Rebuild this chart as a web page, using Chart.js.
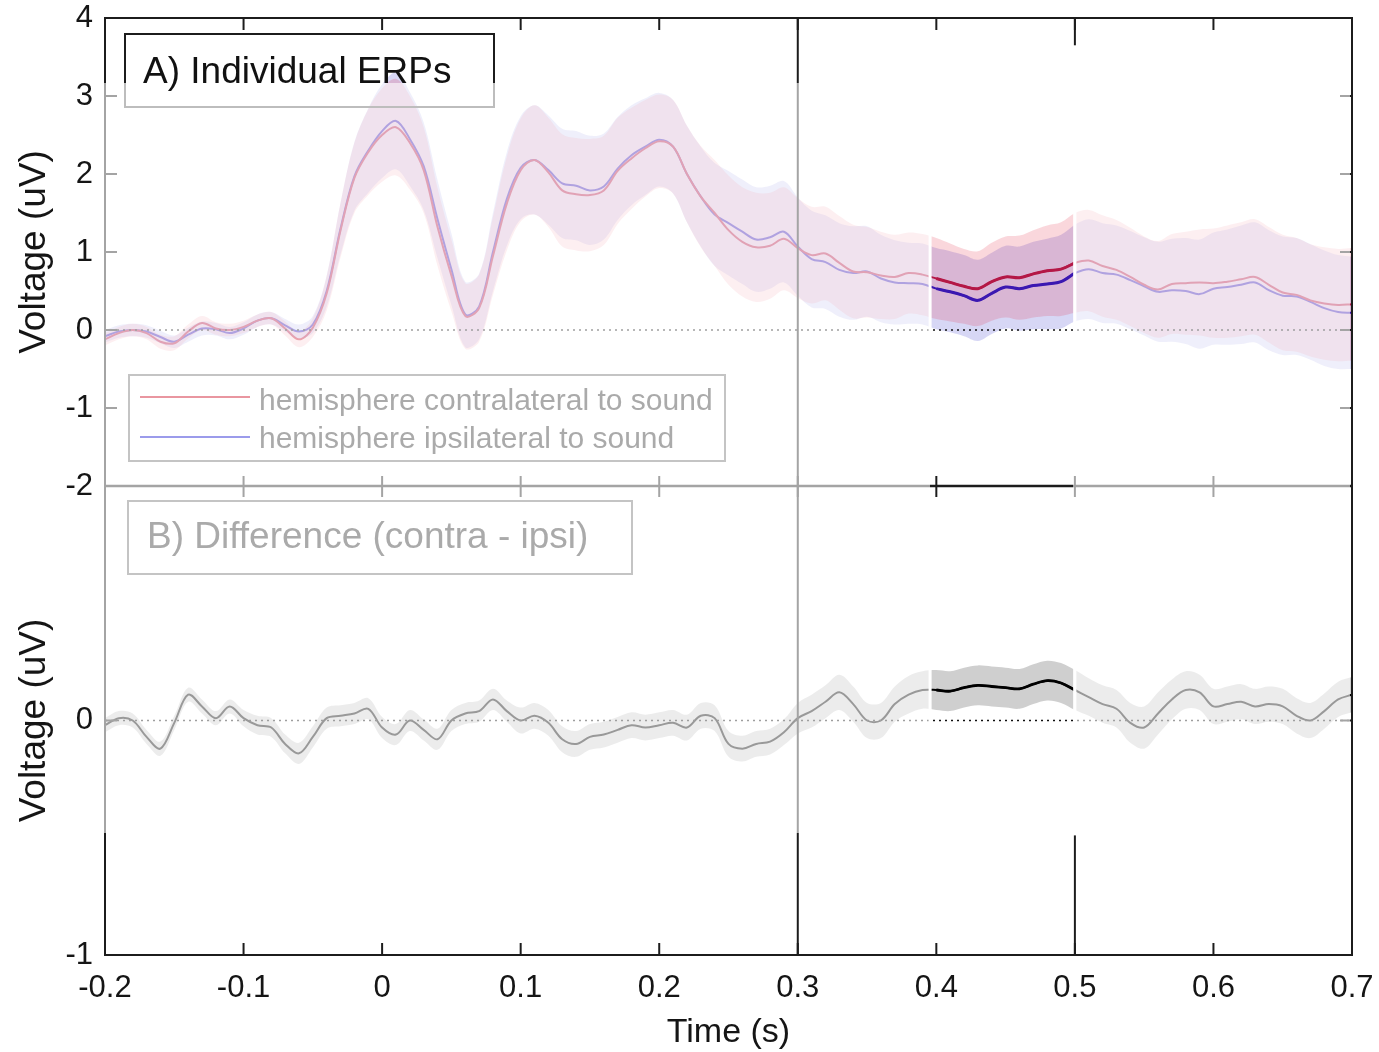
<!DOCTYPE html>
<html><head><meta charset="utf-8">
<script src="https://cdn.jsdelivr.net/npm/chart.js@4.4.1/dist/chart.umd.min.js"></script>
<style>
html,body{margin:0;padding:0;background:#fff;}
#wrap{position:relative;width:1379px;height:1052px;overflow:hidden;font-family:'Liberation Sans',Arial,sans-serif;}
canvas{position:absolute;left:0;}
#cA{top:0;width:1379px;height:520px;}
#cB{top:440px;width:1379px;height:612px;}
.wash{position:absolute;background:rgba(255,255,255,0.6);}
.box{position:absolute;box-sizing:border-box;}
.txt{position:absolute;white-space:nowrap;}
</style></head>
<body><div id="wrap">
<canvas id="cA" width="1379" height="520"></canvas>
<canvas id="cB" width="1379" height="612"></canvas>
<div class="wash" id="w1"></div><div class="wash" id="w2"></div>
<div class="box" style="left:124px;top:33px;width:371px;height:50px;border:2px solid #1c1c1c;border-bottom:none;"></div>
<div class="box" style="left:124px;top:83px;width:371px;height:25px;border:2px solid #bdbdbd;border-top:none;"></div>
<div class="txt" style="left:143px;top:53px;font-size:37px;line-height:36px;color:#111;">A) Individual ERPs</div>
<div class="box" style="left:128px;top:374px;width:598px;height:88px;border:2px solid #c4c4c4;"></div>
<div class="box" style="left:140px;top:396px;width:110px;height:2px;background:rgb(233,150,160);"></div>
<div class="box" style="left:140px;top:436px;width:110px;height:2px;background:rgb(155,155,235);"></div>
<div class="txt" style="left:259px;top:385px;font-size:30px;line-height:30px;color:#aaaaaa;">hemisphere contralateral to sound</div>
<div class="txt" style="left:259px;top:423px;font-size:30px;line-height:30px;color:#aaaaaa;">hemisphere ipsilateral to sound</div>
<div class="box" style="left:127px;top:500px;width:506px;height:75px;border:2px solid #c4c4c4;"></div>
<div class="txt" style="left:147px;top:518px;font-size:37px;line-height:36px;color:#aaaaaa;">B) Difference (contra - ipsi)</div>
</div>
<script>
// ---------------- data ----------------
const time = [
-0.20,-0.19,-0.18,-0.17,-0.16,-0.15,-0.14,-0.13,-0.12,-0.11,
-0.10,-0.09,-0.08,-0.07,-0.06,-0.05,-0.04,-0.03,-0.02,-0.01,
0.00,0.01,0.02,0.03,0.04,0.05,0.06,0.07,0.08,0.09,
0.10,0.11,0.12,0.13,0.14,0.15,0.16,0.17,0.18,0.19,
0.20,0.21,0.22,0.23,0.24,0.25,0.26,0.27,0.28,0.29,
0.30,0.31,0.32,0.33,0.34,0.35,0.36,0.37,0.38,0.39,
0.40,0.41,0.42,0.43,0.44,0.45,0.46,0.47,0.48,0.49,
0.50,0.51,0.52,0.53,0.54,0.55,0.56,0.57,0.58,0.59,
0.60,0.61,0.62,0.63,0.64,0.65,0.66,0.67,0.68,0.69,
0.70];
const contra = [
-0.12,-0.04,0.00,-0.04,-0.15,-0.17,-0.02,0.09,0.02,0.00,
0.04,0.12,0.15,0.02,-0.12,0.03,0.47,1.28,1.95,2.28,
2.50,2.60,2.40,2.05,1.32,0.70,0.18,0.28,0.95,1.62,
2.05,2.18,2.02,1.79,1.74,1.73,1.79,2.04,2.20,2.33,
2.42,2.35,2.00,1.71,1.50,1.28,1.13,1.06,1.08,1.17,
1.05,0.96,0.98,0.86,0.75,0.74,0.70,0.68,0.73,0.71,
0.66,0.61,0.56,0.53,0.62,0.68,0.67,0.72,0.76,0.78,
0.86,0.89,0.82,0.77,0.68,0.58,0.52,0.59,0.60,0.61,
0.60,0.62,0.65,0.68,0.58,0.48,0.45,0.38,0.34,0.32,
0.33];
const ipsi = [
-0.08,-0.02,0.00,-0.02,-0.09,-0.15,-0.06,0.02,0.01,-0.04,
0.02,0.12,0.15,0.06,-0.02,0.07,0.50,1.30,1.97,2.30,
2.55,2.68,2.45,2.10,1.42,0.78,0.20,0.30,1.00,1.68,
2.08,2.18,2.05,1.88,1.85,1.79,1.84,2.07,2.24,2.35,
2.44,2.35,2.00,1.71,1.48,1.37,1.26,1.16,1.19,1.26,
1.07,0.91,0.87,0.77,0.73,0.75,0.66,0.61,0.60,0.59,
0.53,0.49,0.44,0.38,0.47,0.55,0.53,0.57,0.59,0.62,
0.73,0.78,0.73,0.71,0.64,0.56,0.49,0.51,0.50,0.46,
0.53,0.55,0.58,0.61,0.51,0.44,0.43,0.36,0.28,0.23,
0.22];
const contraErr = [
0.08,0.08,0.08,0.08,0.09,0.09,0.09,0.09,0.08,0.08,
0.08,0.08,0.08,0.09,0.10,0.12,0.22,0.35,0.45,0.55,
0.60,0.62,0.60,0.55,0.50,0.46,0.42,0.43,0.50,0.60,
0.66,0.70,0.70,0.72,0.72,0.72,0.70,0.68,0.65,0.62,
0.60,0.60,0.62,0.65,0.68,0.70,0.70,0.70,0.68,0.66,
0.64,0.62,0.60,0.60,0.60,0.58,0.56,0.54,0.52,0.52,
0.52,0.50,0.48,0.48,0.50,0.52,0.54,0.56,0.58,0.60,
0.64,0.65,0.65,0.64,0.63,0.62,0.62,0.64,0.66,0.68,
0.70,0.72,0.73,0.74,0.74,0.74,0.73,0.72,0.72,0.72,
0.72];
const ipsiErr = [
0.08,0.08,0.08,0.08,0.08,0.08,0.09,0.09,0.08,0.08,
0.08,0.08,0.08,0.08,0.09,0.11,0.20,0.33,0.44,0.54,
0.60,0.62,0.60,0.56,0.50,0.46,0.42,0.42,0.50,0.60,
0.66,0.70,0.70,0.70,0.70,0.70,0.68,0.66,0.64,0.62,
0.60,0.60,0.62,0.64,0.66,0.67,0.67,0.67,0.66,0.65,
0.63,0.62,0.60,0.60,0.60,0.58,0.56,0.54,0.52,0.52,
0.52,0.52,0.52,0.52,0.52,0.53,0.54,0.56,0.58,0.60,
0.62,0.64,0.64,0.63,0.63,0.63,0.64,0.66,0.68,0.70,
0.72,0.74,0.76,0.77,0.77,0.76,0.75,0.74,0.74,0.73,
0.72];
const diff = [
-0.02,0.01,0.00,-0.07,-0.12,-0.01,0.11,0.06,0.01,0.06,
0.01,-0.02,-0.03,-0.10,-0.14,-0.07,0.01,0.02,0.03,0.05,
-0.03,-0.06,0.00,-0.04,-0.08,0.00,0.03,0.04,0.09,0.04,
0.00,0.02,-0.01,-0.08,-0.10,-0.07,-0.06,-0.04,-0.02,-0.03,
-0.02,-0.01,-0.03,0.02,0.01,-0.10,-0.12,-0.10,-0.09,-0.05,
0.01,0.04,0.08,0.12,0.07,0.00,0.00,0.07,0.11,0.13,
0.13,0.125,0.14,0.15,0.145,0.14,0.135,0.155,0.17,0.16,
0.13,0.10,0.07,0.05,-0.01,-0.03,0.03,0.09,0.13,0.12,
0.06,0.07,0.08,0.06,0.07,0.06,0.02,0.00,0.04,0.09,
0.11];
const diffErr = [
0.03,0.03,0.03,0.03,0.03,0.03,0.03,0.03,0.03,0.03,
0.035,0.04,0.04,0.04,0.045,0.045,0.045,0.045,0.045,0.045,
0.045,0.045,0.045,0.045,0.045,0.045,0.045,0.045,0.045,0.045,
0.055,0.055,0.055,0.055,0.055,0.055,0.055,0.055,0.055,0.055,
0.055,0.055,0.055,0.055,0.055,0.055,0.055,0.055,0.055,0.055,
0.065,0.07,0.07,0.075,0.075,0.075,0.075,0.075,0.08,0.08,
0.085,0.085,0.085,0.085,0.085,0.085,0.085,0.085,0.085,0.085,
0.085,0.08,0.08,0.08,0.085,0.09,0.09,0.085,0.08,0.075,
0.075,0.075,0.075,0.075,0.075,0.075,0.075,0.075,0.075,0.075,
0.075];
const xTickLabels = [-0.2,-0.1,0,0.1,0.2,0.3,0.4,0.5,0.6,0.7];
const yTicksTop = [-2,-1,0,1,2,3,4];
const yTicksBottom = [-1,0,1];
const analysisWindow = [0.40, 0.50];

// ---------------- helpers ----------------
const WIN_L = 0.3955, WIN_R = 0.4985;   // highlighted (unfaded) window edges
const OV_TOP = 3.17, OV_BOT = -0.48;    // extent of faded region (panel units)
const pts = v => time.map((t,i)=>({x:t,y:v[i]}));
const band = (v,e,s) => time.map((t,i)=>({x:t,y:+(v[i]+s*e[i]).toFixed(3)}));
const inWin = arr => arr.filter(p => p.x >= analysisWindow[0]-1e-9 && p.x <= analysisWindow[1]+1e-9);
const RED = '#c8142d', BLUE = '#1414cc';
const base = {pointRadius:0, tension:0.35, fill:false, borderWidth:0};
const FONT = "'Liberation Sans', Arial, sans-serif";
Chart.defaults.font.family = FONT;
Chart.defaults.color = '#151515';
const innerTicks = xTickLabels.slice(1, -1);
const seg=(ctx,x1,y1,x2,y2)=>{ctx.beginPath();ctx.moveTo(x1,y1);ctx.lineTo(x2,y2);ctx.stroke();};
const fmt = v => { const r = Math.round(v*10)/10; return (Math.abs(r)<1e-9? '0' : String(r)); };
const noPad = s => { s.paddingTop=0; s.paddingBottom=0; s.paddingLeft=0; s.paddingRight=0; };

// ---------------- panel A ----------------
const frameA = {
  id:'frameA',
  afterDatasetsDraw(chart){
    const {ctx, chartArea:a, scales:{x,y}} = chart;
    const L=a.left,R=a.right,T=a.top,B=a.bottom;
    ctx.save();
    ctx.strokeStyle='#111'; ctx.lineWidth=1.6; ctx.setLineDash([2,4]);
    const y0=y.getPixelForValue(0); seg(ctx,L,y0,R,y0);
    ctx.setLineDash([]);
    ctx.strokeStyle='#fff'; ctx.lineWidth=3;
    const xg=x.getPixelForValue(WIN_L); seg(ctx,xg,y.getPixelForValue(OV_TOP),xg,B);
    const x5=x.getPixelForValue(0.5); seg(ctx,x5,y.getPixelForValue(3.65),x5,B);
    ctx.strokeStyle='#1c1c1c'; ctx.lineWidth=2;
    seg(ctx,x5,T,x5,y.getPixelForValue(3.65));
    const x3=x.getPixelForValue(0.3); seg(ctx,x3,T,x3,B);
    seg(ctx,L-1,T,R+1,T); seg(ctx,L,T,L,B); seg(ctx,R,T,R,B);
    innerTicks.forEach(v=>{const p=x.getPixelForValue(v); seg(ctx,p,T,p,T+12); seg(ctx,p,B-10,p,B+11);});
    yTicksTop.forEach(v=>{const p=y.getPixelForValue(v); seg(ctx,L,p,L+12,p); seg(ctx,R-12,p,R,p);});
    ctx.lineWidth=2.5; seg(ctx,L,B,R,B);
    ctx.restore();
  }
};
const chartA = new Chart(document.getElementById('cA'), {
  type:'line',
  data:{datasets:[
    {...base, data:band(contra,contraErr,1), fill:'+1', backgroundColor:'rgba(227,33,61,0.18)'},
    {...base, data:band(contra,contraErr,-1)},
    {...base, data:band(ipsi,ipsiErr,1), fill:'+1', backgroundColor:'rgba(33,33,199,0.18)'},
    {...base, data:band(ipsi,ipsiErr,-1)},
    {...base, data:pts(contra), borderColor:RED, borderWidth:2},
    {...base, data:pts(ipsi), borderColor:BLUE, borderWidth:2},
    {...base, data:inWin(pts(contra)), borderColor:RED, borderWidth:3},
    {...base, data:inWin(pts(ipsi)), borderColor:BLUE, borderWidth:3}
  ]},
  options:{
    responsive:false, animation:false, events:[],
    layout:{padding:{top:18,right:27,bottom:34,left:0}},
    plugins:{legend:{display:false}, tooltip:{enabled:false}},
    scales:{
      x:{type:'linear', min:-0.2, max:0.7, display:false},
      y:{type:'linear', min:-2, max:4,
         afterBuildTicks:s=>{s.ticks=yTicksTop.map(v=>({value:v}));},
         afterFit:s=>{s.width=105; noPad(s);},
         grid:{display:false, drawTicks:false}, border:{display:false},
         ticks:{padding:12, font:{size:31}, color:'#151515'},
         title:{display:true, text:'Voltage (uV)', font:{size:37}, color:'#151515', padding:{top:13,bottom:0}}}
    }
  },
  plugins:[frameA]
});

// ---------------- panel B ----------------
const frameB = {
  id:'frameB',
  afterDatasetsDraw(chart){
    const {ctx, chartArea:a, scales:{x,y}} = chart;
    const L=a.left,R=a.right,T=a.top,B=a.bottom;
    ctx.save();
    ctx.strokeStyle='#111'; ctx.lineWidth=1.6; ctx.setLineDash([2,4]);
    const y0=y.getPixelForValue(0); seg(ctx,L,y0,R,y0);
    ctx.setLineDash([]);
    ctx.strokeStyle='#fff'; ctx.lineWidth=3;
    const xg=x.getPixelForValue(WIN_L); seg(ctx,xg,T+12,xg,y.getPixelForValue(OV_BOT));
    const x5=x.getPixelForValue(0.5); const yb=y.getPixelForValue(-0.49);
    seg(ctx,x5,T+12,x5,yb);
    ctx.strokeStyle='#1c1c1c'; ctx.lineWidth=2;
    seg(ctx,x5,yb,x5,B);
    const x3=x.getPixelForValue(0.3); seg(ctx,x3,T,x3,B);
    seg(ctx,L,T,L,B); seg(ctx,R,T,R,B); seg(ctx,L-1,B,R+1,B);
    innerTicks.forEach(v=>{const p=x.getPixelForValue(v); seg(ctx,p,B-12,p,B);});
    yTicksBottom.slice(1,-1).forEach(v=>{const p=y.getPixelForValue(v); seg(ctx,L,p,L+12,p); seg(ctx,R-12,p,R,p);});
    ctx.restore();
  }
};
const chartB = new Chart(document.getElementById('cB'), {
  type:'line',
  data:{datasets:[
    {...base, data:band(diff,diffErr,1), fill:'+1', backgroundColor:'rgba(0,0,0,0.19)'},
    {...base, data:band(diff,diffErr,-1)},
    {...base, data:pts(diff), borderColor:'#000', borderWidth:2},
    {...base, data:inWin(pts(diff)), borderColor:'#000', borderWidth:2.8}
  ]},
  options:{
    responsive:false, animation:false, events:[],
    layout:{padding:{top:46,right:27,bottom:0,left:0}},
    plugins:{legend:{display:false}, tooltip:{enabled:false}},
    scales:{
      x:{type:'linear', min:-0.2, max:0.7,
         afterBuildTicks:s=>{s.ticks=xTickLabels.map(v=>({value:v}));},
         afterFit:s=>{s.height=97; noPad(s);},
         grid:{display:false, drawTicks:false}, border:{display:false},
         ticks:{padding:15, font:{size:31}, color:'#151515', maxRotation:0, autoSkip:false, callback:v=>fmt(v)},
         title:{display:true, text:'Time (s)', font:{size:34}, color:'#151515', padding:{top:0,bottom:-1}}},
      y:{type:'linear', min:-1, max:1,
         afterBuildTicks:s=>{s.ticks=yTicksBottom.map(v=>({value:v}));},
         afterFit:s=>{s.width=105; noPad(s);},
         grid:{display:false, drawTicks:false}, border:{display:false},
         ticks:{padding:12, font:{size:31}, color:'#151515', callback:v=>(v===1?'':fmt(v))},
         title:{display:true, text:'Voltage (uV)', font:{size:37}, color:'#151515', padding:{top:13,bottom:0}}}
    }
  },
  plugins:[frameB]
});

// ---------------- faded overlay (everything outside the analysis window) ----------------
(function(){
  const xa = chartA.scales.x;
  const left = chartA.chartArea.left - 1, right = chartA.chartArea.right - 2;
  const wl = xa.getPixelForValue(WIN_L), wr = xa.getPixelForValue(WIN_R);
  const top = chartA.scales.y.getPixelForValue(OV_TOP);
  const bot = 440 + chartB.scales.y.getPixelForValue(OV_BOT);
  const set=(el,l,t,w,h)=>{el.style.left=l+'px';el.style.top=t+'px';el.style.width=w+'px';el.style.height=h+'px';};
  set(document.getElementById('w1'), left, top, wl-left, bot-top);
  set(document.getElementById('w2'), wr, top, right-wr, bot-top);
})();
</script>
</body></html>
